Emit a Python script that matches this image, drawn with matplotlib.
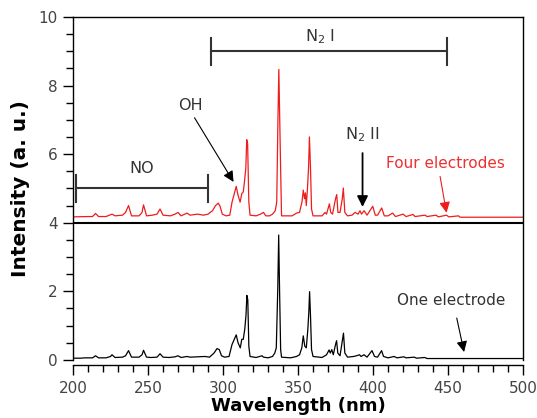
import matplotlib.pyplot as plt
from matplotlib.ticker import MultipleLocator

# one electrode spectrum
one_wl = [200, 205, 208, 213, 215, 217, 222, 225, 226, 228, 233, 235, 237, 239, 244, 246, 247, 249,
          252, 256, 258, 260, 264, 268, 270, 272, 276, 278, 283, 288, 291, 294, 296, 297.5, 299, 301,
          304, 306, 308.8, 310, 311.5, 312.5, 313.5, 314.5, 315.3, 315.9, 316.5, 317.2, 318, 322, 326,
          327, 330, 333, 334.5, 335.5, 336.5, 337.1, 337.7, 338.4, 339, 345, 349, 351, 352.5, 353.5,
          354.5, 355.5, 356.5, 357.2, 357.7, 358.3, 359, 360, 366, 369, 370.7, 371.5, 372.5, 373.5,
          375, 375.7, 376.5, 378, 380.3, 381.2, 383, 387, 389, 391, 392, 394, 396, 399.3, 401, 403,
          405.7, 407, 410, 414, 416, 420.5, 422, 427.5, 429, 434.5, 436, 500]
one_int = [0.05, 0.05, 0.06, 0.06, 0.12, 0.06, 0.06, 0.1, 0.15, 0.07, 0.08, 0.12, 0.27, 0.08, 0.08,
           0.15, 0.28, 0.08, 0.07, 0.08, 0.18, 0.08, 0.07, 0.09, 0.12, 0.07, 0.1, 0.08, 0.09, 0.1,
           0.08, 0.2, 0.33, 0.3, 0.12, 0.08, 0.1, 0.45, 0.73, 0.5, 0.35, 0.6, 0.6, 0.9, 1.3, 1.88,
           1.75, 0.4, 0.1, 0.07, 0.12, 0.08, 0.06, 0.1, 0.2, 0.35, 2.1, 3.64, 2.0, 0.3, 0.08, 0.06,
           0.1, 0.15, 0.35, 0.7, 0.4, 0.35, 0.87, 1.4, 1.99, 1.3, 0.3, 0.1, 0.07, 0.15, 0.29, 0.2,
           0.3, 0.15, 0.45, 0.56, 0.2, 0.12, 0.78, 0.2, 0.08, 0.1, 0.12, 0.15, 0.1, 0.15, 0.08, 0.27,
           0.1, 0.08, 0.27, 0.1, 0.06, 0.1, 0.06, 0.09, 0.06, 0.08, 0.05, 0.07, 0.04, 0.04]

# four electrodes spectrum (already shifted up in the original)
four_wl = [200, 210, 213, 215, 217, 222, 226, 228, 233, 235, 237, 239, 244, 246, 247, 249, 253, 256,
           258, 260, 265, 268, 270, 272, 276, 278, 283, 287, 290, 293, 295, 296.8, 298, 299.5, 302,
           304.5, 306, 308.8, 310, 311.4, 312.5, 313.5, 314.3, 315.2, 315.8, 316.4, 317.2, 318, 322,
           325, 327, 328.5, 331, 333, 334.8, 335.8, 336.6, 337.2, 337.8, 338.3, 339, 346, 349, 351,
           352.6, 353.5, 354.3, 354.9, 355.5, 356.3, 357, 357.6, 358.3, 359, 360, 366, 368, 369,
           370.9, 371.8, 373, 375, 375.8, 376.6, 378, 379.5, 380.2, 381.2, 383, 386, 388, 390, 391.3,
           392.3, 394, 396, 399.8, 401.5, 403, 405.8, 407.5, 410, 413, 415, 420, 422, 426.7, 428,
           434.7, 436, 442, 443.5, 449, 450.5, 457, 458, 500]
four_int = [4.17, 4.18, 4.18, 4.27, 4.18, 4.18, 4.25, 4.2, 4.22, 4.3, 4.5, 4.2, 4.2, 4.3, 4.52, 4.2,
            4.22, 4.25, 4.4, 4.22, 4.2, 4.25, 4.3, 4.2, 4.28, 4.22, 4.25, 4.22, 4.25, 4.35, 4.5, 4.57,
            4.48, 4.25, 4.2, 4.22, 4.6, 5.06, 4.8, 4.6, 4.85, 4.9, 5.2, 5.6, 6.42, 6.3, 4.6, 4.22, 4.2,
            4.25, 4.3, 4.2, 4.2, 4.25, 4.35, 4.6, 7.0, 8.47, 7.0, 5.8, 4.2, 4.2, 4.28, 4.3, 4.6, 4.95,
            4.7, 4.87, 4.5, 5.0, 5.6, 6.5, 5.6, 4.4, 4.2, 4.2, 4.3, 4.25, 4.55, 4.3, 4.25, 4.7, 4.82,
            4.3, 4.3, 4.7, 5.01, 4.3, 4.2, 4.22, 4.3, 4.25, 4.35, 4.25, 4.35, 4.22, 4.48, 4.22, 4.22,
            4.43, 4.2, 4.2, 4.28, 4.18, 4.25, 4.18, 4.24, 4.18, 4.22, 4.18, 4.22, 4.17, 4.22, 4.17,
            4.2, 4.16, 4.16]

red = '#ee1c1c'
grey = '#333333'

fig = plt.figure(figsize=(5.37, 4.18), dpi=100)
ax = fig.add_axes([0.136, 0.139, 0.838, 0.8205])

ax.plot(one_wl, one_int, color='black', lw=0.9)
ax.plot(four_wl, four_int, color=red, lw=0.9)
ax.axhline(4, color='black', lw=1.5)

ax.set_xlim(200, 500)
ax.set_ylim(0, 10)
ax.spines['bottom'].set_position(('outward', 4))
for s in ax.spines.values():
    s.set_linewidth(1.0)
ax.xaxis.set_major_locator(MultipleLocator(50))
ax.xaxis.set_minor_locator(MultipleLocator(10))
ax.yaxis.set_major_locator(MultipleLocator(2))
ax.yaxis.set_minor_locator(MultipleLocator(0.5))
ax.tick_params(which='major', length=7, width=1, labelsize=11, labelcolor='#444444', pad=4)
ax.tick_params(which='minor', length=5, width=1)
ax.set_xlabel('Wavelength (nm)', fontsize=13, fontweight='bold', labelpad=1)
ax.set_ylabel('Intensity (a. u.)', fontsize=14.5, fontweight='bold', labelpad=6)

# brackets
def bracket(x0, x1, y):
    ax.plot([x0, x1], [y, y], color=grey, lw=1.5)
    ax.plot([x0, x0], [y - 0.4, y + 0.4], color=grey, lw=1.5)
    ax.plot([x1, x1], [y - 0.4, y + 0.4], color=grey, lw=1.5)

bracket(292, 449, 9.0)
bracket(202, 290, 5.0)
ax.text(364.7, 9.42, 'N$_2$ I', ha='center', va='center', fontsize=11.5, color=grey)
ax.text(246, 5.57, 'NO', ha='center', va='center', fontsize=11.5, color=grey)

arrow = dict(arrowstyle='-|>', color='black', lw=0.8, mutation_scale=16, shrinkA=0, shrinkB=0)
ax.text(278, 7.43, 'OH', ha='center', va='center', fontsize=11.5, color=grey)
ax.annotate('', xy=(307, 5.19), xytext=(281, 7.06), arrowprops=arrow)
ax.text(392.7, 6.56, 'N$_2$ II', ha='center', va='center', fontsize=11.5, color=grey)
ax.annotate('', xy=(393, 4.46), xytext=(393, 6.03), arrowprops=dict(arrow, lw=1.3))
ax.text(448, 5.74, 'Four electrodes', ha='center', va='center', fontsize=11, color='#ee3030')
ax.annotate('', xy=(449, 4.29), xytext=(444.7, 5.35), arrowprops=dict(arrow, color=red))
ax.text(452.4, 1.72, 'One electrode', ha='center', va='center', fontsize=11, color=grey)
ax.annotate('', xy=(460.7, 0.23), xytext=(455.8, 1.22), arrowprops=arrow)

fig.savefig('out.png', dpi=100)
